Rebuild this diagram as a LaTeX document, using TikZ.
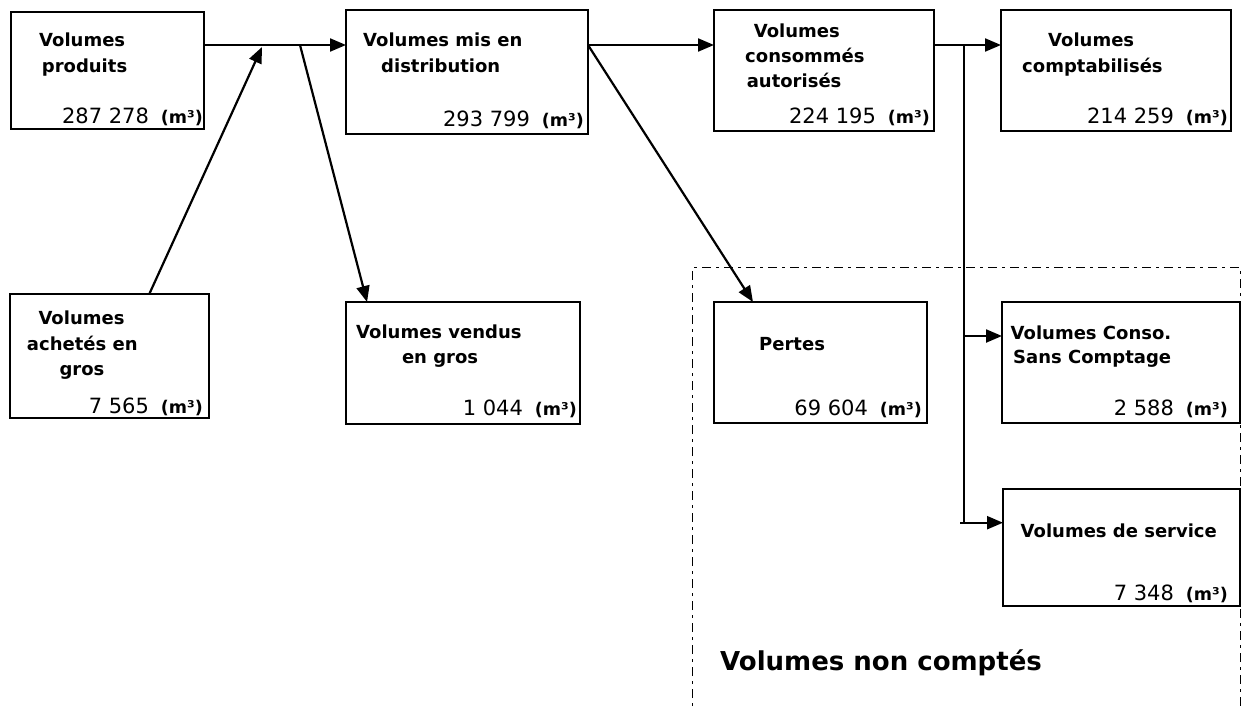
\documentclass[tikz,border=0pt]{standalone}
\usepackage{fontspec}
\setmainfont{DejaVu Sans}
\usetikzlibrary{arrows.meta,calc}
\newcommand\munit[1]{\hspace{12pt}{\fontsize{17.5}{19}\selectfont\bfseries #1}}
\begin{document}
\begin{tikzpicture}[x=1pt,y=-1pt,
  box/.style={draw,line width=1.7pt,inner sep=0pt,outer sep=0pt,anchor=north west},
  lab/.style={anchor=base west,inner sep=0pt,font=\fontsize{18}{21}\selectfont\bfseries},
  num/.style={anchor=base east,inner sep=0pt,font=\fontsize{21}{24}\selectfont},
  arr/.style={line width=2.2pt,-{Triangle[length=16pt,width=13pt]}},
  ln/.style={line width=2.2pt},
  dd/.style={line width=1.6pt,dash pattern=on 9pt off 5pt on 3pt off 5pt}]
\useasboundingbox (0,0) rectangle (1242,709);
\fill[white] (0,0) rectangle (1242,709);
% region of the non counted volumes
\draw[dd] (692.5,720) -- (692.5,267.5) -- (1240.5,267.5) -- (1240.5,720);
% boxes
\node[box,minimum width=193pt,minimum height=117pt] (b1) at (11,12) {};
\node[box,minimum width=242pt,minimum height=124pt] (b2) at (346,10) {};
\node[box,minimum width=220pt,minimum height=121pt] (b3) at (714,10) {};
\node[box,minimum width=230pt,minimum height=121pt] (b4) at (1001,10) {};
\node[box,minimum width=199pt,minimum height=124pt] (b5) at (10,294) {};
\node[box,minimum width=234pt,minimum height=122pt] (b6) at (346,302) {};
\node[box,minimum width=213pt,minimum height=121pt] (b7) at (714,302) {};
\node[box,minimum width=238pt,minimum height=121pt] (b8) at (1002,302) {};
\node[box,minimum width=237pt,minimum height=117pt] (b9) at (1003,489) {};
% texts
\node[lab] (t1a) at (39,46.7) {Volumes};
\node[lab] (t1b) at (41.7,72.7) {produits};
\node[num] (t1n) at (203,123) {287 278\munit{(m³)}};
\node[lab] (t2a) at (363,46.7) {Volumes mis en};
\node[lab] (t2b) at (381,72.7) {distribution};
\node[num] (t2n) at (584,126) {293 799\munit{(m³)}};
\node[lab] (t3a) at (753.6,38) {Volumes};
\node[lab] (t3b) at (745,63) {consommés};
\node[lab] (t3c) at (746.6,87) {autorisés};
\node[num] (t3n) at (930,123) {224 195\munit{(m³)}};
\node[lab] (t4a) at (1048,46.7) {Volumes};
\node[lab] (t4b) at (1022,72.7) {comptabilisés};
\node[num] (t4n) at (1228,123) {214 259\munit{(m³)}};
\node[lab] (t5a) at (38.3,324) {Volumes};
\node[lab] (t5b) at (26.8,350) {achetés en};
\node[lab] (t5c) at (59.3,375) {gros};
\node[num] (t5n) at (203,413) {7 565\munit{(m³)}};
\node[lab] (t6a) at (356,338) {Volumes vendus};
\node[lab] (t6b) at (401.8,363) {en gros};
\node[num] (t6n) at (577,415) {1 044\munit{(m³)}};
\node[lab] (t7a) at (759,350.7) {Pertes};
\node[num] (t7n) at (922,415) {69 604\munit{(m³)}};
\node[lab] (t8a) at (1010.5,339) {Volumes Conso.};
\node[lab] (t8b) at (1013,363) {Sans Comptage};
\node[num] (t8n) at (1228,415) {2 588\munit{(m³)}};
\node[lab] (t9a) at (1020.5,537.3) {Volumes de service};
\node[num] (t9n) at (1228,600.7) {7 348\munit{(m³)}};
\node[anchor=base west,inner sep=0pt,font=\fontsize{26}{30}\selectfont\bfseries] (nc) at (720,670) {Volumes non comptés};
% connectors
\coordinate (row) at (0,45);
\coordinate (jin) at (262,47);
\coordinate (jout) at (300,45);
\coordinate (vtop) at (964,45);
\coordinate (y8) at (0,336);
\coordinate (y9) at (0,522.7);
\coordinate (stub) at (960,522.7);
\draw[arr] (b1.east |- row) -- (b2.west |- row);
\draw[arr] ($(b5.north west)!0.70!(b5.north east)$) -- (jin);
\draw[arr] (jout) -- ($(b6.north west)!0.09!(b6.north east)$);
\draw[arr] (b2.east |- row) -- (b3.west |- row);
\draw[arr] (b2.east |- row) -- ($(b7.north west)!0.183!(b7.north east)$);
\draw[arr] (b3.east |- row) -- (b4.west |- row);
\draw[ln] (vtop) -- (vtop |- y9);
\draw[arr] (vtop |- y8) -- (b8.west |- y8);
\draw[arr] (stub) -- (b9.west |- y9);
\end{tikzpicture}
\end{document}
